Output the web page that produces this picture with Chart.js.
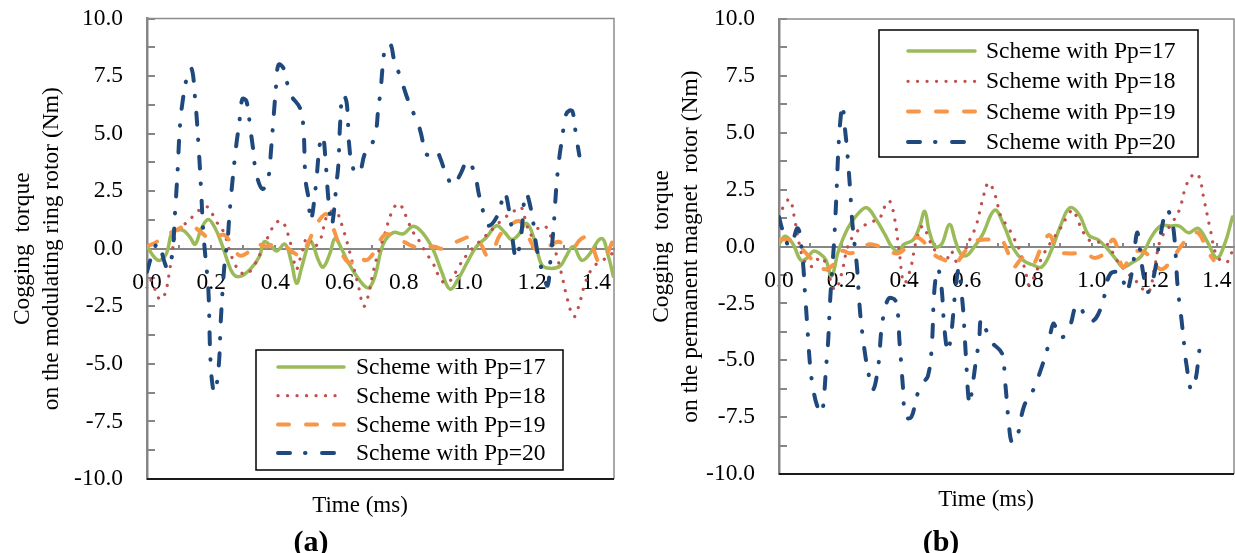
<!DOCTYPE html>
<html>
<head>
<meta charset="utf-8">
<script src="https://cdn.jsdelivr.net/npm/chart.js@4.4.1/dist/chart.umd.min.js"></script>
<style>
  html, body { margin: 0; padding: 0; background: #fff; }
  #wrap { position: relative; width: 1235px; height: 553px; overflow: hidden; }
  canvas { position: absolute; top: 0; }
  #chartA { left: 0; }
  #chartB { left: 620px; }
</style>
</head>
<body>
<div id="wrap">
  <canvas id="chartA" width="620" height="553"></canvas>
  <canvas id="chartB" width="615" height="553"></canvas>
</div>
<script>
const seriesNames = ['Scheme with Pp=17', 'Scheme with Pp=18', 'Scheme with Pp=19', 'Scheme with Pp=20'];

// (a) cogging torque on the modulating ring rotor, time in ms / torque in Nm
const a17T = [0, 0.025, 0.04, 0.061, 0.077, 0.092, 0.113, 0.134, 0.15, 0.17, 0.191, 0.212, 0.233, 0.25, 0.269, 0.29, 0.321, 0.35, 0.365, 0.388, 0.404, 0.43, 0.45, 0.466, 0.482, 0.503, 0.513, 0.534, 0.549, 0.57, 0.586, 0.606, 0.627, 0.664, 0.69, 0.71, 0.736, 0.767, 0.799, 0.83, 0.861, 0.892, 0.918, 0.944, 0.97, 1.001, 1.027, 1.058, 1.089, 1.115, 1.136, 1.157, 1.183, 1.209, 1.23, 1.255, 1.287, 1.307, 1.328, 1.354, 1.375, 1.416, 1.437, 1.453];
const a17V = [0.1, -0.4, -0.5, -0.2, 0.7, 0.8, 0.8, 0.5, 0.2, 0.9, 1.27, 0.9, 0.2, -0.5, -1.1, -1.2, -0.9, -0.35, 0.3, 0.1, -0.1, 0.2, -0.6, -1.5, -0.8, 0.2, 0.3, -0.5, -0.8, -0.2, 0.45, 0.0, -0.6, -1.4, -1.7, -1.2, 0.2, 0.7, 0.65, 0.98, 0.65, -0.05, -1.0, -1.75, -1.3, -0.5, 0.1, 0.5, 1.0, 0.7, 0.4, 0.6, 1.1, 0.3, -0.7, -0.85, -0.75, -0.3, 0.1, -0.5, -0.3, 0.45, -0.3, -1.2];

const a18T = [0, 0.02, 0.04, 0.055, 0.07, 0.08, 0.095, 0.12, 0.15, 0.17, 0.19, 0.215, 0.24, 0.255, 0.275, 0.29, 0.31, 0.335, 0.36, 0.38, 0.4, 0.42, 0.44, 0.455, 0.465, 0.48, 0.5, 0.52, 0.54, 0.56, 0.58, 0.595, 0.61, 0.625, 0.64, 0.66, 0.675, 0.69, 0.705, 0.72, 0.74, 0.76, 0.78, 0.795, 0.81, 0.83, 0.85, 0.87, 0.89, 0.91, 0.93, 0.95, 0.97, 1.0, 1.02, 1.05, 1.08, 1.11, 1.14, 1.165, 1.18, 1.195, 1.21, 1.235, 1.25, 1.27, 1.29, 1.31, 1.33, 1.345, 1.365, 1.39, 1.42, 1.45];
const a18V = [-1.0, -1.6, -2.2, -2.0, -1.0, 0.0, 0.8, 1.1, 1.5, 1.75, 1.8, 1.2, 0.7, 0.0, -0.7, -1.0, -1.1, -0.7, 0.0, 0.6, 1.1, 1.2, 0.6, -0.3, -0.9, -0.3, 0.5, 0.1, 0.4, 1.4, 1.65, 1.5, 0.9, 0.2, -0.6, -1.7, -2.5, -2.0, -1.0, -0.2, 0.6, 1.5, 1.95, 1.8, 1.3, 0.7, 0.3, -0.2, -0.6, -1.2, -1.5, -1.3, -0.8, -0.2, 0.1, 0.5, 0.9, 1.3, 1.6, 1.8, 1.2, 0.6, 0.8, 1.0, 0.8, 0.0, -1.0, -2.2, -2.95, -2.5, -1.5, -0.8, -0.5, -0.2];

const a19T = [0, 0.03, 0.06, 0.09, 0.12, 0.14, 0.17, 0.2, 0.24, 0.27, 0.29, 0.31, 0.34, 0.37, 0.4, 0.43, 0.46, 0.48, 0.5, 0.52, 0.54, 0.56, 0.58, 0.6, 0.62, 0.64, 0.66, 0.68, 0.7, 0.72, 0.74, 0.76, 0.78, 0.8, 0.83, 0.86, 0.89, 0.92, 0.95, 0.98, 1.01, 1.04, 1.06, 1.08, 1.1, 1.13, 1.16, 1.18, 1.2, 1.22, 1.25, 1.28, 1.3, 1.33, 1.35, 1.37, 1.39, 1.41, 1.43, 1.45];
const a19V = [0.1, 0.3, 0.6, 0.8, 1.0, 1.0, 0.7, 0.4, 0.6, 0.0, -0.3, -0.2, 0.2, 0.1, 0.2, 0.1, -0.2, -0.3, 0.2, 0.8, 1.3, 1.5, 0.9, 0.1, -0.5, -0.6, -0.3, -0.5, -0.3, 0.2, 0.6, 0.6, 0.4, 0.3, 0.1, 0.0, 0.1, 0.0, 0.2, 0.4, 0.5, 0.2, -0.3, 0.0, 0.6, 1.0, 1.2, 0.8, 0.2, -0.1, 0.1, 0.3, 0.2, 0.1, 0.4, 0.5, 0.0, -0.6, -0.3, 0.3];

const a20T = [0, 0.015, 0.035, 0.055, 0.064, 0.078, 0.087, 0.095, 0.103, 0.112, 0.122, 0.138, 0.15, 0.16, 0.168, 0.175, 0.183, 0.191, 0.198, 0.207, 0.213, 0.224, 0.23, 0.243, 0.25, 0.257, 0.266, 0.279, 0.287, 0.297, 0.31, 0.322, 0.33, 0.34, 0.36, 0.378, 0.386, 0.396, 0.403, 0.41, 0.425, 0.435, 0.447, 0.477, 0.487, 0.494, 0.503, 0.51, 0.525, 0.539, 0.548, 0.557, 0.563, 0.568, 0.575, 0.583, 0.59, 0.596, 0.602, 0.61, 0.622, 0.63, 0.642, 0.661, 0.678, 0.695, 0.712, 0.72, 0.728, 0.735, 0.744, 0.758, 0.77, 0.783, 0.8, 0.812, 0.83, 0.85, 0.871, 0.888, 0.9, 0.912, 0.933, 0.955, 0.975, 0.999, 1.02, 1.035, 1.05, 1.065, 1.095, 1.113, 1.13, 1.14, 1.15, 1.165, 1.18, 1.198, 1.21, 1.22, 1.235, 1.248, 1.257, 1.266, 1.276, 1.285, 1.293, 1.305, 1.316, 1.326, 1.336, 1.347];
const a20V = [-1.0, -0.3, 0.25, -0.6, -0.85, -0.3, 1.5, 3.3, 5.4, 6.5, 7.3, 7.85, 6.5, 4.6, 2.7, 0.8, -0.5, -1.7, -4.9, -6.2, -6.2, -5.0, -3.1, -0.4, 0.2, 1.5, 2.9, 4.6, 5.4, 6.5, 6.4, 5.2, 4.4, 3.3, 2.6, 3.1, 4.2, 6.0, 7.2, 8.0, 7.85, 7.3, 6.7, 6.1, 5.3, 3.0, 2.2, 1.2, 2.6, 4.6, 4.9, 3.7, 2.5, 1.75, 1.0, 1.7, 2.8, 3.6, 5.5, 6.7, 6.35, 4.5, 3.5, 3.25, 4.1, 4.4, 5.0, 6.0, 6.9, 8.0, 8.8, 8.9, 8.2, 7.7, 7.0, 6.5, 5.9, 5.2, 4.1, 4.2, 4.3, 4.0, 3.2, 2.75, 3.2, 3.8, 3.3, 2.3, 1.5, 1.0, 1.53, 2.45, 1.5, 0.3, -0.4, 0.5, 2.4, 1.6, 0.4, -0.4, -1.1, -1.6, -0.5, 0.8, 2.8, 4.0, 4.75, 5.8, 6.0, 5.95, 5.0, 4.05];

// (b) cogging torque on the permanent magnet rotor
const b17T = [0, 0.02, 0.045, 0.07, 0.09, 0.11, 0.13, 0.15, 0.168, 0.19, 0.22, 0.25, 0.28, 0.31, 0.34, 0.36, 0.38, 0.4, 0.43, 0.45, 0.466, 0.48, 0.5, 0.52, 0.545, 0.565, 0.58, 0.6, 0.62, 0.65, 0.69, 0.72, 0.75, 0.78, 0.81, 0.84, 0.87, 0.9, 0.93, 0.96, 0.99, 1.02, 1.05, 1.08, 1.1, 1.13, 1.16, 1.19, 1.22, 1.25, 1.28, 1.31, 1.34, 1.37, 1.4, 1.425, 1.45];
const b17V = [0.1, 0.45, 0.1, -0.6, -0.5, -0.2, -0.3, -0.6, -1.3, -0.2, 0.8, 1.4, 1.7, 1.2, 0.5, 0.0, -0.2, 0.1, 0.3, 0.9, 1.55, 0.7, 0.0, 0.1, 0.97, 0.2, -0.3, -0.4, -0.1, 0.5, 1.6, 0.9, -0.1, -0.6, -0.8, -0.9, -0.2, 0.9, 1.7, 1.4, 0.5, 0.3, -0.1, -0.6, -0.9, -0.7, -0.4, 0.4, 0.9, 0.9, 0.9, 0.6, 0.8, 0.2, -0.5, 0.1, 1.3];

const b18T = [0, 0.02, 0.035, 0.05, 0.065, 0.08, 0.1, 0.12, 0.14, 0.16, 0.18, 0.2, 0.22, 0.24, 0.27, 0.3, 0.32, 0.34, 0.354, 0.37, 0.385, 0.4, 0.42, 0.44, 0.46, 0.48, 0.5, 0.52, 0.535, 0.55, 0.57, 0.59, 0.61, 0.63, 0.65, 0.67, 0.69, 0.71, 0.73, 0.75, 0.77, 0.79, 0.8, 0.82, 0.84, 0.87, 0.9, 0.925, 0.94, 0.96, 0.99, 1.02, 1.05, 1.08, 1.11, 1.14, 1.18, 1.2, 1.22, 1.25, 1.28, 1.3, 1.32, 1.34, 1.36, 1.38, 1.4, 1.43, 1.45];
const b18V = [1.3, 1.9, 2.07, 1.2, 0.1, -0.6, -0.9, -0.6, -0.5, -1.3, -1.9, -1.2, 0.0, 0.5, 0.9, 1.1, 1.2, 1.8, 2.0, 1.2, -0.3, -1.6, -1.0, 0.3, 0.9, 0.3, -0.2, -0.5, -0.6, -0.2, -0.7, -0.3, 0.3, 0.9, 2.0, 2.8, 2.3, 1.3, 0.9, 0.4, -0.2, -1.2, -1.7, -1.2, -0.5, 0.2, 0.8, 1.4, 1.6, 1.0, 0.3, 0.2, 0.1, -0.6, -1.1, -1.5, -2.0, -1.0, 0.3, 0.9, 1.6, 2.6, 3.1, 3.17, 2.0, 0.7, -0.4, -0.7, -0.2];

const b19T = [0, 0.03, 0.06, 0.08, 0.1, 0.12, 0.15, 0.18, 0.2, 0.23, 0.26, 0.29, 0.32, 0.35, 0.38, 0.41, 0.44, 0.47, 0.5, 0.53, 0.56, 0.59, 0.62, 0.65, 0.68, 0.71, 0.73, 0.75, 0.78, 0.81, 0.84, 0.865, 0.89, 0.92, 0.95, 0.98, 1.01, 1.04, 1.07, 1.1, 1.13, 1.16, 1.19, 1.22, 1.25, 1.28, 1.31, 1.34, 1.37, 1.39];
const b19V = [0.3, 0.3, 0.1, -0.2, -0.5, -0.8, -1.0, -0.7, -0.2, -0.3, -0.1, 0.1, 0.0, -0.2, -0.3, 0.0, 0.4, 0.1, -0.4, -0.6, -0.8, -0.3, 0.2, 0.3, 0.3, 0.3, -0.2, -0.9, -0.5, -0.8, 0.0, 0.5, -0.2, -0.3, -0.3, -0.3, -0.5, -0.3, 0.3, -0.9, -0.3, -0.2, -0.5, -1.0, -0.7, -0.1, 0.4, 0.6, -0.2, -0.6];

const b20T = [0, 0.012, 0.035, 0.06, 0.075, 0.083, 0.091, 0.1, 0.11, 0.122, 0.136, 0.145, 0.15, 0.157, 0.163, 0.17, 0.177, 0.184, 0.19, 0.196, 0.203, 0.21, 0.218, 0.228, 0.233, 0.24, 0.25, 0.256, 0.263, 0.275, 0.285, 0.3, 0.317, 0.33, 0.35, 0.373, 0.386, 0.397, 0.405, 0.423, 0.44, 0.46, 0.476, 0.488, 0.497, 0.508, 0.519, 0.529, 0.54, 0.55, 0.557, 0.565, 0.575, 0.585, 0.59, 0.598, 0.609, 0.62, 0.63, 0.64, 0.646, 0.66, 0.68, 0.713, 0.722, 0.728, 0.735, 0.744, 0.755, 0.765, 0.784, 0.81, 0.84, 0.86, 0.877, 0.89, 0.905, 0.93, 0.95, 0.965, 0.983, 1.0, 1.02, 1.04, 1.06, 1.093, 1.11, 1.13, 1.145, 1.155, 1.165, 1.18, 1.2, 1.22, 1.24, 1.255, 1.265, 1.275, 1.287, 1.297, 1.302, 1.318, 1.332, 1.342, 1.35];
const b20V = [1.3, 0.7, 0.0, 0.8, -0.5, -2.0, -3.6, -5.3, -6.3, -7.0, -7.3, -6.4, -5.4, -4.2, -2.5, -1.0, 0.4, 2.4, 4.3, 5.5, 6.2, 5.3, 4.2, 2.4, 1.3, 0.3, -1.0, -2.3, -3.4, -4.7, -5.5, -6.3, -5.3, -3.4, -2.3, -2.4, -4.3, -6.3, -7.5, -7.5, -6.6, -6.0, -5.7, -4.5, -1.9, -1.0, -1.7, -3.6, -4.6, -3.9, -3.0, -1.8, -1.0, -2.2, -3.0, -4.9, -6.9, -6.0, -5.0, -4.1, -3.2, -3.6, -4.2, -4.7, -5.8, -6.7, -7.8, -8.6, -8.5, -8.2, -7.0, -6.4, -5.3, -4.4, -3.4, -3.7, -4.0, -3.5, -2.6, -2.7, -3.2, -3.3, -3.0, -2.2, -1.2, -1.2, -2.0, -1.0, 0.6, -0.2, -1.2, -2.0, -1.2, 0.5, 1.6, 1.2, 0.3, -1.8, -3.2, -4.5, -5.1, -6.3, -5.85, -4.8, -3.9];

const lineStyles = [
  { color: '#9BBB59', width: 3.5, dash: [] },
  { color: '#C0504D', width: 3.2, dash: [0.1, 9.4] },
  { color: '#F79646', width: 4, dash: [11, 17] },
  { color: '#1F497D', width: 4, dash: [12, 15, 0.5, 16.5] }
];

Chart.defaults.font.family = "'Liberation Serif', 'Times New Roman', serif";
Chart.defaults.font.size = 23.5;
Chart.defaults.color = '#000';

function points(t, v) {
  return t.map((x, i) => ({ x: x, y: v[i] }));
}

// frame around the plot area, in-plot legend, axis caption and panel tag
const panelDecor = {
  id: 'panelDecor',
  beforeDatasetsDraw(chart) {
    const { ctx, chartArea: a } = chart;
    ctx.save();
    ctx.strokeStyle = '#8c8c8c';
    ctx.lineWidth = 1.5;
    ctx.beginPath();
    ctx.moveTo(a.left, a.top);
    ctx.lineTo(a.right, a.top);
    ctx.lineTo(a.right, a.bottom);
    ctx.stroke();
    ctx.strokeStyle = '#1a1a1a';
    ctx.lineWidth = 2;
    ctx.beginPath();
    ctx.moveTo(a.left, a.bottom);
    ctx.lineTo(a.right, a.bottom);
    ctx.stroke();
    ctx.restore();
  },
  afterDraw(chart, args, opts) {
    const ctx = chart.ctx;
    const lg = opts.legend;
    ctx.save();
    ctx.fillStyle = '#fff';
    ctx.fillRect(lg.x, lg.y, lg.w, lg.h);
    ctx.strokeStyle = '#000';
    ctx.lineWidth = 1.5;
    ctx.strokeRect(lg.x, lg.y, lg.w, lg.h);
    ctx.font = "23.5px 'Liberation Serif'";
    ctx.textBaseline = 'middle';
    ctx.textAlign = 'left';
    chart.data.datasets.forEach((ds, i) => {
      const y = lg.row0 + i * lg.step;
      ctx.strokeStyle = ds.borderColor;
      ctx.lineWidth = ds.borderWidth;
      ctx.lineCap = 'round';
      ctx.setLineDash(ds.borderDash);
      ctx.beginPath();
      ctx.moveTo(lg.sx0, y);
      ctx.lineTo(lg.sx1, y);
      ctx.stroke();
      ctx.setLineDash([]);
      ctx.fillStyle = '#000';
      ctx.fillText(ds.label, lg.tx, y + 1);
    });
    ctx.textAlign = 'center';
    ctx.textBaseline = 'alphabetic';
    ctx.font = "23px 'Liberation Serif'";
    ctx.fillText('Time (ms)', opts.caption.x, opts.caption.y);
    ctx.font = "bold 30px 'Liberation Serif'";
    ctx.fillText(opts.tag.text, opts.tag.x, opts.tag.y);
    ctx.restore();
  }
};

function makeChart(id, sets, cfg) {
  return new Chart(document.getElementById(id), {
    type: 'line',
    data: {
      datasets: sets.map((s, i) => ({
        label: seriesNames[i],
        data: points(s[0], s[1]),
        borderColor: lineStyles[i].color,
        borderWidth: lineStyles[i].width,
        borderDash: lineStyles[i].dash,
        borderCapStyle: 'round',
        borderJoinStyle: 'round',
        pointRadius: 0,
        tension: 0.4,
        fill: false,
        order: 3 - i
      }))
    },
    options: {
      responsive: false,
      animation: false,
      events: [],
      layout: { padding: cfg.pad },
      scales: {
        x: {
          type: 'linear',
          min: 0,
          max: 1.455,
          position: { y: 0 },
          border: { color: '#868686', width: 2 },
          grid: { drawOnChartArea: false, tickLength: -5, color: '#868686', lineWidth: 2 },
          ticks: {
            stepSize: 0.1,
            autoSkip: false,
            maxRotation: 0,
            includeBounds: false,
            padding: 25,
            callback: v => (Math.round(v * 10) % 2 === 0 ? v.toFixed(1) : '')
          },
          afterFit: s => { s.height = 0; s.paddingLeft = 0; s.paddingRight = 0; }
        },
        y: {
          min: -10,
          max: 10,
          border: { color: '#868686', width: 2.5 },
          grid: { drawOnChartArea: false, tickLength: -8, color: '#868686', lineWidth: 2 },
          ticks: {
            stepSize: 1.25,
            autoSkip: false,
            padding: 32,
            callback: v => (Math.round(v * 4) % 2 === 0 ? v.toFixed(1) : '')
          },
          title: {
            display: true,
            text: cfg.yTitle,
            font: { size: 23.5, lineHeight: 1.25 },
            padding: { top: cfg.titlePad, bottom: 0 }
          },
          afterFit: s => { s.width = cfg.yWidth; s.paddingTop = 0; s.paddingBottom = 0; }
        }
      },
      plugins: {
        legend: { display: false },
        tooltip: { enabled: false },
        panelDecor: cfg.decor
      }
    },
    plugins: [panelDecor]
  });
}

makeChart('chartA', [[a17T, a17V], [a18T, a18V], [a19T, a19V], [a20T, a20V]], {
  pad: { left: 0, right: 6, top: 18.5, bottom: 74 },
  yWidth: 147,
  titlePad: 8,
  yTitle: ['Cogging  torque', 'on the modulating ring rotor (Nm)'],
  decor: {
    legend: { x: 256, y: 350, w: 307, h: 120, row0: 367, step: 28.7, sx0: 278, sx1: 344, tx: 356 },
    caption: { x: 360, y: 512 },
    tag: { text: '(a)', x: 311, y: 551 }
  }
});

makeChart('chartB', [[b17T, b17V], [b18T, b18V], [b19T, b19V], [b20T, b20V]], {
  pad: { left: 0, right: 1, top: 19, bottom: 79 },
  yWidth: 159,
  titlePad: 27,
  yTitle: ['Cogging  torque', 'on the permanent magnet  rotor (Nm)'],
  decor: {
    legend: { x: 259, y: 30, w: 319, h: 127, row0: 51, step: 30.3, sx0: 288, sx1: 355, tx: 366 },
    caption: { x: 366, y: 506 },
    tag: { text: '(b)', x: 321, y: 551 }
  }
});
</script>
</body>
</html>
